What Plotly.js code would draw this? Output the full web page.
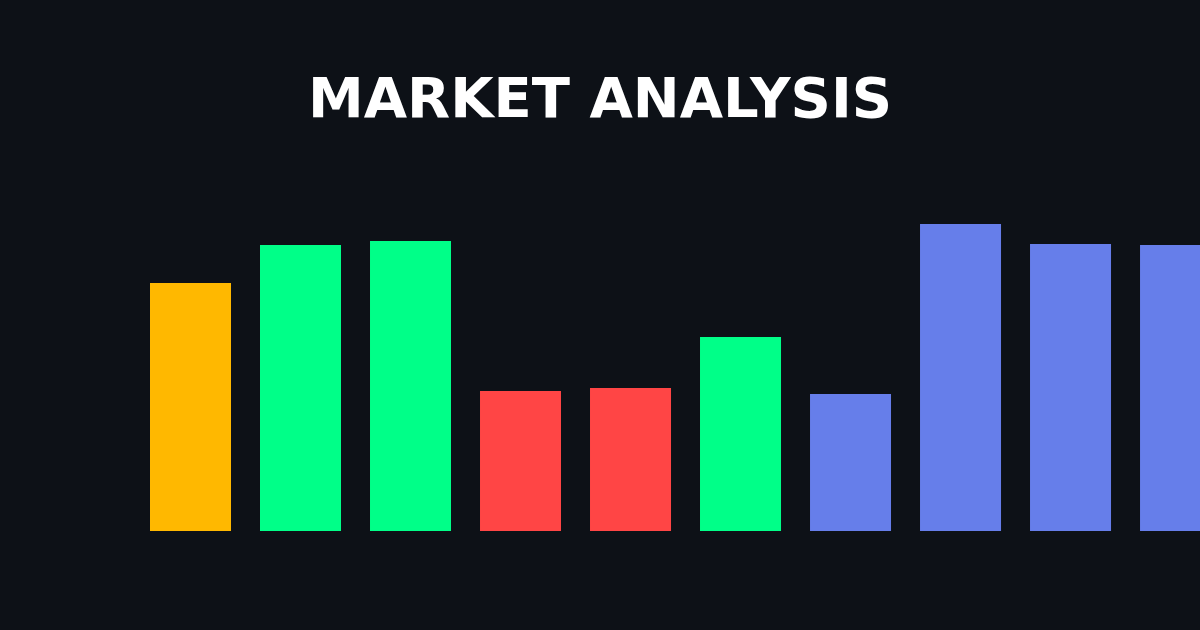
<!DOCTYPE html>
<html>
<head>
<meta charset="utf-8">
<script src="https://cdn.plot.ly/plotly-3.0.1.min.js"></script>
<style>
  html, body { margin: 0; padding: 0; background: #0d1117; }
  #chart { width: 1200px; height: 630px; }
</style>
</head>
<body>
<div id="chart"></div>
<script>
  // market segments
  const periods = ["P1", "P2", "P3", "P4", "P5", "P6", "P7", "P8", "P9", "P10"];
  const values = [62, 71.5, 72.5, 35, 35.75, 48.5, 34.25, 76.75, 71.75, 71.5];
  const trend = ["neutral", "up", "up", "down", "down", "up", "base", "base", "base", "base"];

  const palette = {
    neutral: "#ffb800",
    up: "#00ff88",
    down: "#ff4545",
    base: "#667eea",
  };

  const data = [
    {
      x: periods,
      y: values,
      type: "bar",
      marker: { color: trend.map((t) => palette[t]), line: { width: 0 } },
      hoverinfo: "none",
    },
  ];

  const layout = {
    width: 1200,
    height: 630,
    paper_bgcolor: "#0d1117",
    plot_bgcolor: "#0d1117",
    margin: { l: 0, r: 0, t: 131, b: 99 },
    showlegend: false,
    bargap: 0.2636,
    title: {
      text: "<b>MARKET ANALYSIS</b>",
      font: { family: "DejaVu Sans", size: 56, color: "#ffffff" },
      x: 0.5,
      xanchor: "center",
      xref: "paper",
      y: 0.846,
      yref: "container",
      yanchor: "middle",
    },
    xaxis: {
      type: "category",
      range: [-1.7318, 9.177],
      visible: false,
      fixedrange: true,
    },
    yaxis: {
      range: [0, 100],
      visible: false,
      fixedrange: true,
    },
  };

  Plotly.newPlot("chart", data, layout, { staticPlot: true });
</script>
</body>
</html>
